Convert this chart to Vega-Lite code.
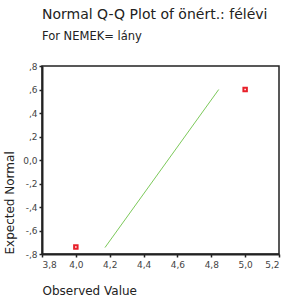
{
  "$schema": "https://vega.github.io/schema/vega-lite/v6.json",
  "autosize": "none",
  "width": 237,
  "height": 188,
  "padding": {"left": 42, "top": 66, "right": 6, "bottom": 44},
  "background": "white",
  "config": {
    "font": "DejaVu Sans",
    "view": {"stroke": "#222", "strokeWidth": 1.5},
    "axis": {
      "grid": false,
      "domainColor": "#222",
      "domainWidth": 2,
      "tickColor": "#222",
      "tickSize": 3,
      "tickWidth": 1.5,
      "labelFont": "DejaVu Sans",
      "labelFontSize": 9,
      "labelColor": "#444",
      "titleFont": "DejaVu Sans",
      "titleFontSize": 12,
      "titleFontWeight": "normal",
      "titleColor": "#222"
    }
  },
  "title": {
    "text": "Normal Q-Q Plot of önért.: félévi",
    "subtitle": "For NEMEK= lány",
    "anchor": "start",
    "frame": "group",
    "font": "DejaVu Sans",
    "fontSize": 14,
    "fontWeight": "normal",
    "color": "#222",
    "subtitleFont": "DejaVu Sans",
    "subtitleFontSize": 11.5,
    "subtitleColor": "#222",
    "subtitlePadding": 9,
    "offset": 20
  },
  "datasets": {
    "points": [
      {"observed": 4.0, "expected": -0.74},
      {"observed": 5.0, "expected": 0.6}
    ],
    "line": [
      {"observed": 4.172, "expected": -0.745},
      {"observed": 4.844, "expected": 0.6}
    ]
  },
  "layer": [
    {
      "data": {"name": "line"},
      "mark": {"type": "line", "color": "#7cc95a", "strokeWidth": 1},
      "encoding": {
        "x": {"field": "observed", "type": "quantitative",
          "scale": {"domain": [3.8, 5.2], "nice": false, "zero": false},
          "axis": {"title": "Observed Value", "values": [3.8, 4.0, 4.2, 4.4, 4.6, 4.8, 5.0, 5.2],
            "labelOverlap": false, "labelBound": false, "format": ".1f",
            "labelExpr": "replace(datum.label, '.', ',')",
            "titleAnchor": "start", "titlePadding": 16, "labelPadding": 3}},
        "y": {"field": "expected", "type": "quantitative",
          "scale": {"domain": [-0.8, 0.8], "nice": false, "zero": false},
          "axis": {"title": "Expected Normal", "values": [-0.8, -0.6, -0.4, -0.2, 0, 0.2, 0.4, 0.6, 0.8],
            "labelOverlap": false, "labelBound": false, "format": ".1f",
            "labelExpr": "datum.value == 0 ? '0,0' : (datum.value < 0 ? '-,' : ',') + abs(round(datum.value * 10))",
            "titleAnchor": "start", "titlePadding": 6, "labelPadding": 2}}
      }
    },
    {
      "data": {"name": "points"},
      "mark": {"type": "point", "shape": "square", "filled": false, "fill": "white", "stroke": "#e8202a", "strokeWidth": 2, "size": 12, "opacity": 1},
      "encoding": {
        "x": {"field": "observed", "type": "quantitative", "axis": {"labelOverlap": false, "values": [3.8, 4.0, 4.2, 4.4, 4.6, 4.8, 5.0, 5.2]}},
        "y": {"field": "expected", "type": "quantitative", "axis": {"labelOverlap": false, "values": [-0.8, -0.6, -0.4, -0.2, 0, 0.2, 0.4, 0.6, 0.8]}}
      }
    }
  ]
}
